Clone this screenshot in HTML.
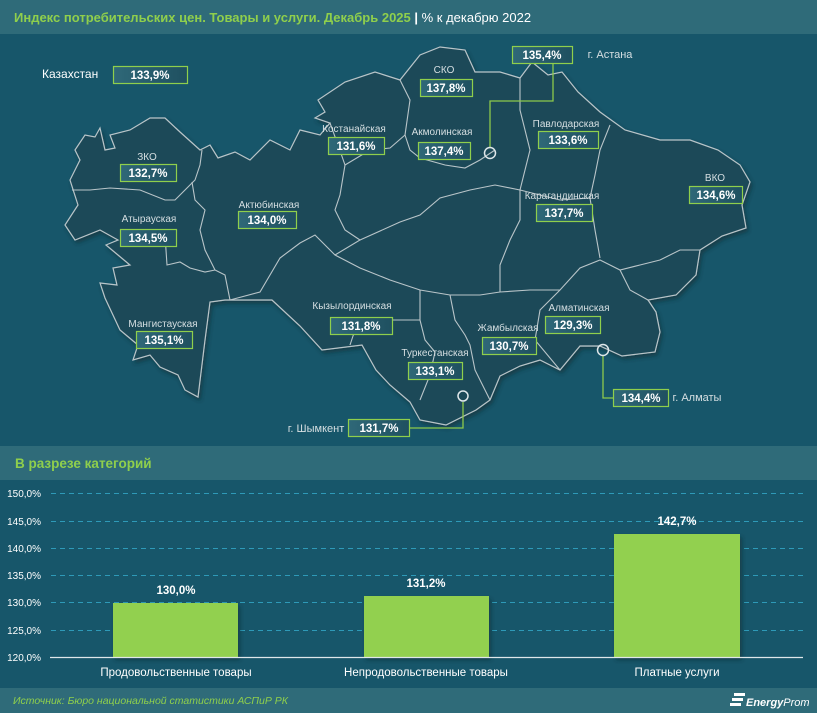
<!DOCTYPE html>
<html><head><meta charset="utf-8"><style>
body{margin:0;width:817px;height:713px;overflow:hidden;background:#17566a;font-family:"Liberation Sans","DejaVu Sans",sans-serif;}
svg{display:block}
</style></head><body>
<svg width="817" height="713" viewBox="0 0 817 713" xmlns="http://www.w3.org/2000/svg" font-family="Liberation Sans, DejaVu Sans, sans-serif">
<defs>
<linearGradient id="bx" x1="0" x2="1"><stop offset="0" stop-color="#2f6878"/><stop offset="1" stop-color="#1f5060"/></linearGradient>
<filter id="sh"><feDropShadow dx="2" dy="3" stdDeviation="2" flood-color="#0a2a34" flood-opacity="0.6"/></filter>
</defs>
<rect x="0" y="0" width="817" height="34" fill="#2f6b79"/>
<text x="14" y="22" font-size="13" font-weight="bold" fill="#8fcf4c">Индекс потребительских цен. Товары и услуги. Декабрь 2025 <tspan fill="#fff">|</tspan><tspan fill="#fff" font-weight="normal"> % к декабрю 2022</tspan></text>

<g filter="url(#sh)">
<path fill="#1e4a59" stroke="#b9c5c9" stroke-width="1.2" d="M75,150 L85,135 L95,137 L100,128 L105,150 L115,148 L110,135 L130,130 L150,118 L165,118 L180,132 L200,150 L210,145 L218,158 L235,152 L250,160 L270,140 L290,150 L300,130 L320,135 L330,123 L315,118 L325,112 L318,100 L345,82 L375,72 L400,80 L420,55 L440,47 L465,50 L475,72 L500,72 L520,78 L532,62 L548,75 L562,72 L578,92 L600,112 L625,130 L660,140 L690,140 L718,150 L740,165 L750,182 L742,205 L746,228 L722,236 L700,250 L696,275 L676,295 L648,300 L656,312 L660,332 L655,352 L622,356 L600,346 L580,346 L560,370 L540,360 L520,366 L500,376 L490,400 L476,410 L446,425 L420,420 L410,402 L390,385 L376,370 L362,345 L322,350 L300,326 L272,300 L225,300 L210,302 L205,340 L198,397 L185,390 L178,375 L160,367 L150,355 L133,360 L138,345 L120,330 L105,298 L100,283 L117,285 L113,268 L130,265 L106,245 L118,240 L100,230 L75,240 L65,225 L78,205 L70,180 L80,160 Z"/>
</g>
<g fill="none" stroke="#b9c5c9" stroke-width="1.1">
<path d="M72,190 L90,190 L110,188 L140,190 L165,200 L175,200 L185,190 L195,180 L200,165 L202,150"/>
<path d="M192,182 L195,200 L205,210 L200,230 L205,250 L215,270 L225,275 L230,300"/>
<path d="M165,235 L167,265 L180,262 L190,268 L205,272 L215,270"/>
<path d="M230,300 L260,292 L280,258 L300,243 L315,235 L335,255 L360,268 L390,280 L420,290 L450,295 L480,295 L500,292"/>
<path d="M330,123 L338,145 L345,165 L340,195 L335,210 L345,230 L360,240 L335,255"/>
<path d="M400,80 L410,100 L405,135 L410,150 L420,158 L445,165 L465,168 L480,160 L495,150"/>
<path d="M345,165 L370,150 L390,148 L405,135"/>
<path d="M360,240 L400,222 L420,215 L440,198 L470,190 L495,185 L520,190 L530,150 L520,110 L520,78"/>
<path d="M420,290 L420,320 L425,340 L435,352 L430,375 L420,400"/>
<path d="M450,295 L455,320 L465,335 L470,345 L475,370 L490,400"/>
<path d="M500,292 L500,265 L510,240 L520,220 L520,190"/>
<path d="M500,292 L530,290 L560,290 L580,268 L600,260 L620,270 L640,265 L660,260"/>
<path d="M560,290 L540,310 L535,340 L560,370"/>
<path d="M520,190 L560,200 L590,198 L595,175 L600,150 L610,125"/>
<path d="M590,198 L595,230 L600,258"/>
<path d="M620,270 L630,290 L648,300"/>
<path d="M660,260 L680,250 L700,250"/>
<path d="M350,345 L355,330 L380,320 L420,320"/>
</g>

<g fill="none" stroke="#8dc94b" stroke-width="1.3">
<path d="M490,147 L490,101 L553,101 L553,63"/>
<path d="M603,356 L603,398 L613,398"/>
<path d="M463,402 L463,428 L409,428"/>
</g>
<g fill="none" stroke="#dfe7ea" stroke-width="1.5">
<circle cx="490" cy="153" r="5.5"/><circle cx="603" cy="350" r="5.5"/><circle cx="463" cy="396" r="5"/>
</g>

<g font-size="10" fill="#d6dfe2" text-anchor="middle">
<text x="444" y="73">СКО</text>
<text x="354" y="132">Костанайская</text>
<text x="442" y="135">Акмолинская</text>
<text x="566" y="127">Павлодарская</text>
<text x="147" y="160">ЗКО</text>
<text x="715" y="181">ВКО</text>
<text x="269" y="208">Актюбинская</text>
<text x="149" y="222">Атырауская</text>
<text x="562" y="199">Карагандинская</text>
<text x="163" y="327">Мангистауская</text>
<text x="352" y="309">Кызылординская</text>
<text x="579" y="311">Алматинская</text>
<text x="508" y="331">Жамбылская</text>
<text x="435" y="356">Туркестанская</text>
<text x="316" y="432" font-size="11">г. Шымкент</text>
<text x="610" y="58" font-size="11">г. Астана</text>
<text x="697" y="401" font-size="11">г. Алматы</text>
</g>
<text x="42" y="78" font-size="12" fill="#fff">Казахстан</text>

<g stroke="#8fcf4c" stroke-width="1.2" fill="url(#bx)">
<rect x="113.5" y="66.5" width="74" height="17"/>
<rect x="420.5" y="79.5" width="52" height="17"/>
<rect x="512.5" y="46.5" width="60" height="17"/>
<rect x="328.5" y="137.5" width="56" height="17"/>
<rect x="418.5" y="142.5" width="52" height="17"/>
<rect x="538.5" y="131.5" width="60" height="17"/>
<rect x="120.5" y="164.5" width="56" height="17"/>
<rect x="689.5" y="186.5" width="53" height="17"/>
<rect x="238.5" y="211.5" width="58" height="17"/>
<rect x="120.5" y="229.5" width="56" height="17"/>
<rect x="536.5" y="204.5" width="56" height="17"/>
<rect x="136.5" y="331.5" width="56" height="17"/>
<rect x="330.5" y="317.5" width="62" height="17"/>
<rect x="545.5" y="316.5" width="55" height="17"/>
<rect x="482.5" y="337.5" width="54" height="17"/>
<rect x="408.5" y="362.5" width="54" height="17"/>
<rect x="613.5" y="389.5" width="55" height="17"/>
<rect x="348.5" y="419.5" width="61" height="17"/>
</g>
<g font-size="11.5" font-weight="bold" fill="#fff" text-anchor="middle">
<text x="150" y="79">133,9%</text>
<text x="446" y="92">137,8%</text>
<text x="542" y="59">135,4%</text>
<text x="356" y="150">131,6%</text>
<text x="444" y="155">137,4%</text>
<text x="568" y="144">133,6%</text>
<text x="148" y="177">132,7%</text>
<text x="716" y="199">134,6%</text>
<text x="267" y="224">134,0%</text>
<text x="148" y="242">134,5%</text>
<text x="564" y="217">137,7%</text>
<text x="164" y="344">135,1%</text>
<text x="361" y="330">131,8%</text>
<text x="573" y="329">129,3%</text>
<text x="509" y="350">130,7%</text>
<text x="435" y="375">133,1%</text>
<text x="641" y="402">134,4%</text>
<text x="379" y="432">131,7%</text>
</g>

<rect x="0" y="446" width="817" height="34" fill="#2f6b79"/>
<text x="15" y="468" font-size="13.5" font-weight="bold" fill="#8fcf4c">В разрезе категорий</text>

<g stroke="#2e9ab8" stroke-width="1" stroke-dasharray="5,4">
<line x1="51" y1="493.5" x2="803" y2="493.5"/>
<line x1="51" y1="521.5" x2="803" y2="521.5"/>
<line x1="51" y1="548.5" x2="803" y2="548.5"/>
<line x1="51" y1="575.5" x2="803" y2="575.5"/>
<line x1="51" y1="602.5" x2="803" y2="602.5"/>
<line x1="51" y1="630.5" x2="803" y2="630.5"/>
</g>
<g font-size="10" fill="#fff" text-anchor="end">
<text x="41" y="497">150,0%</text><text x="41" y="525">145,0%</text><text x="41" y="552">140,0%</text>
<text x="41" y="579">135,0%</text><text x="41" y="606">130,0%</text><text x="41" y="634">125,0%</text><text x="41" y="661">120,0%</text>
</g>
<g fill="#92d050" filter="url(#sh)">
<rect x="113" y="603" width="125" height="54"/>
<rect x="364" y="596" width="125" height="61"/>
<rect x="614" y="534" width="126" height="123"/>
</g>
<line x1="50" y1="657.5" x2="803" y2="657.5" stroke="#dfe7ea" stroke-width="1.2"/>
<g font-size="11.5" font-weight="bold" fill="#fff" text-anchor="middle">
<text x="176" y="594">130,0%</text><text x="426" y="587">131,2%</text><text x="677" y="525">142,7%</text>
</g>
<g font-size="11.5" fill="#fff" text-anchor="middle">
<text x="176" y="676">Продовольственные товары</text><text x="426" y="676">Непродовольственные товары</text><text x="677" y="676">Платные услуги</text>
</g>

<rect x="0" y="688" width="817" height="25" fill="#2f6b79"/>
<text x="13" y="704" font-size="10.5" font-style="italic" fill="#8fcf4c">Источник: Бюро национальной статистики АСПиР РК</text>
<g fill="#fff"><rect x="734" y="693" width="11" height="3"/><rect x="732" y="698" width="11" height="3"/><rect x="730" y="703" width="11" height="3"/></g>
<text x="746" y="706" font-size="11" font-style="italic" font-weight="bold" fill="#fff">Energy<tspan font-weight="normal">Prom</tspan></text>
</svg>
</body></html>
